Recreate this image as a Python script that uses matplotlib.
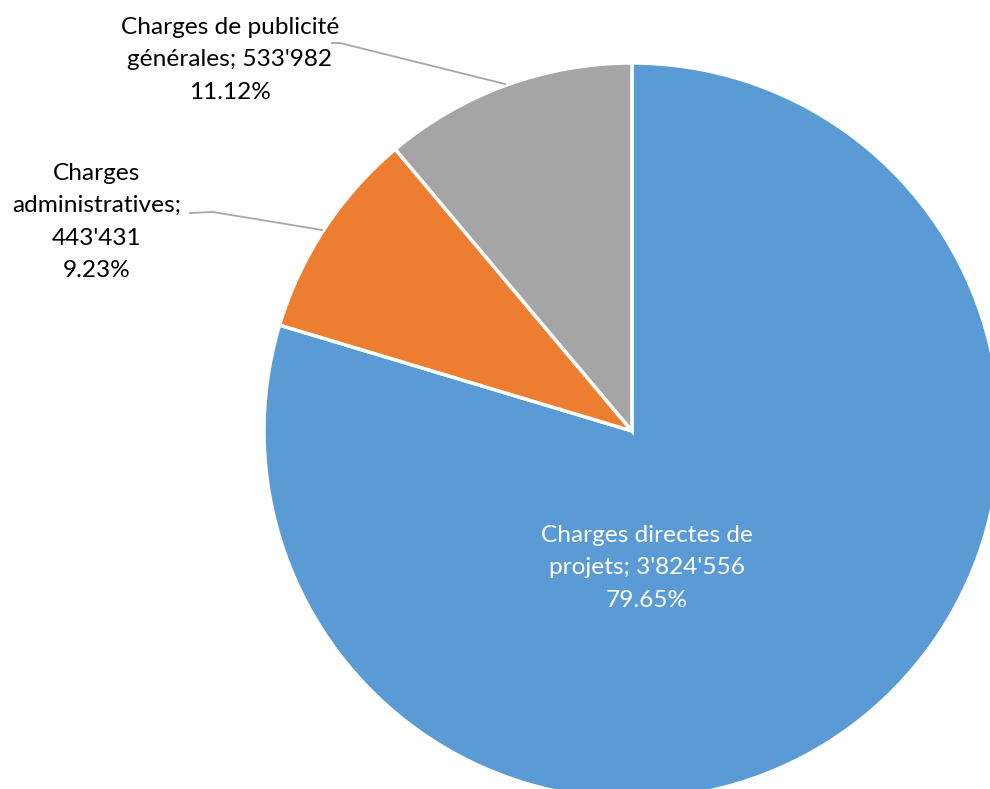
import matplotlib
matplotlib.use('Agg')
import matplotlib.pyplot as plt

# DATA
labels = ["Charges directes de\nprojets; 3'824'556", "Charges\nadministratives;\n443'431", "Charges de publicité\ngénérales; 533'982"]
values = [3824556, 443431, 533982]
percents = ['79.65%', '9.23%', '11.12%']
colors = ['#5B9BD5', '#ED7D31', '#A5A5A5']

plt.rcParams['font.family'] = ['Lato', 'DejaVu Sans']

W, H = 990, 789
cx, cy, r = 632, 431, 368

fig = plt.figure(figsize=(W / 100, H / 100), dpi=100)
ax = fig.add_axes([(cx - r) / W, (H - cy - r) / H, 2 * r / W, 2 * r / H])
ax.pie(values, colors=colors, startangle=90, counterclock=False, radius=1,
       wedgeprops=dict(edgecolor='white', linewidth=2.5))
ax.set_xlim(-1, 1)
ax.set_ylim(-1, 1)
ax.set_aspect('equal')
ax.axis('off')


# pixel -> data helper
def px(x, y):
    return (x - cx) / r, (cy - y) / r


# label positions in pixels (centre of text block)
pos = [(647, 568), (97, 222), (230, 60)]
txt_col = ['white', 'black', 'black']
for i in range(3):
    x, y = px(*pos[i])
    ax.text(x, y, labels[i] + '\n' + percents[i], ha='center', va='center',
            fontsize=17.6, color=txt_col[i], linespacing=1.67, clip_on=False)

# leader lines
lead_gray = [(332, 43), (340, 43), (505, 84)]
lead_orange = [(190, 213), (213, 212), (322, 230)]
for pts in [lead_gray, lead_orange]:
    xs = [px(*p)[0] for p in pts]
    ys = [px(*p)[1] for p in pts]
    ax.plot(xs, ys, color='#A6A6A6', linewidth=1.3, clip_on=False)

fig.savefig('out.png', dpi=100)
